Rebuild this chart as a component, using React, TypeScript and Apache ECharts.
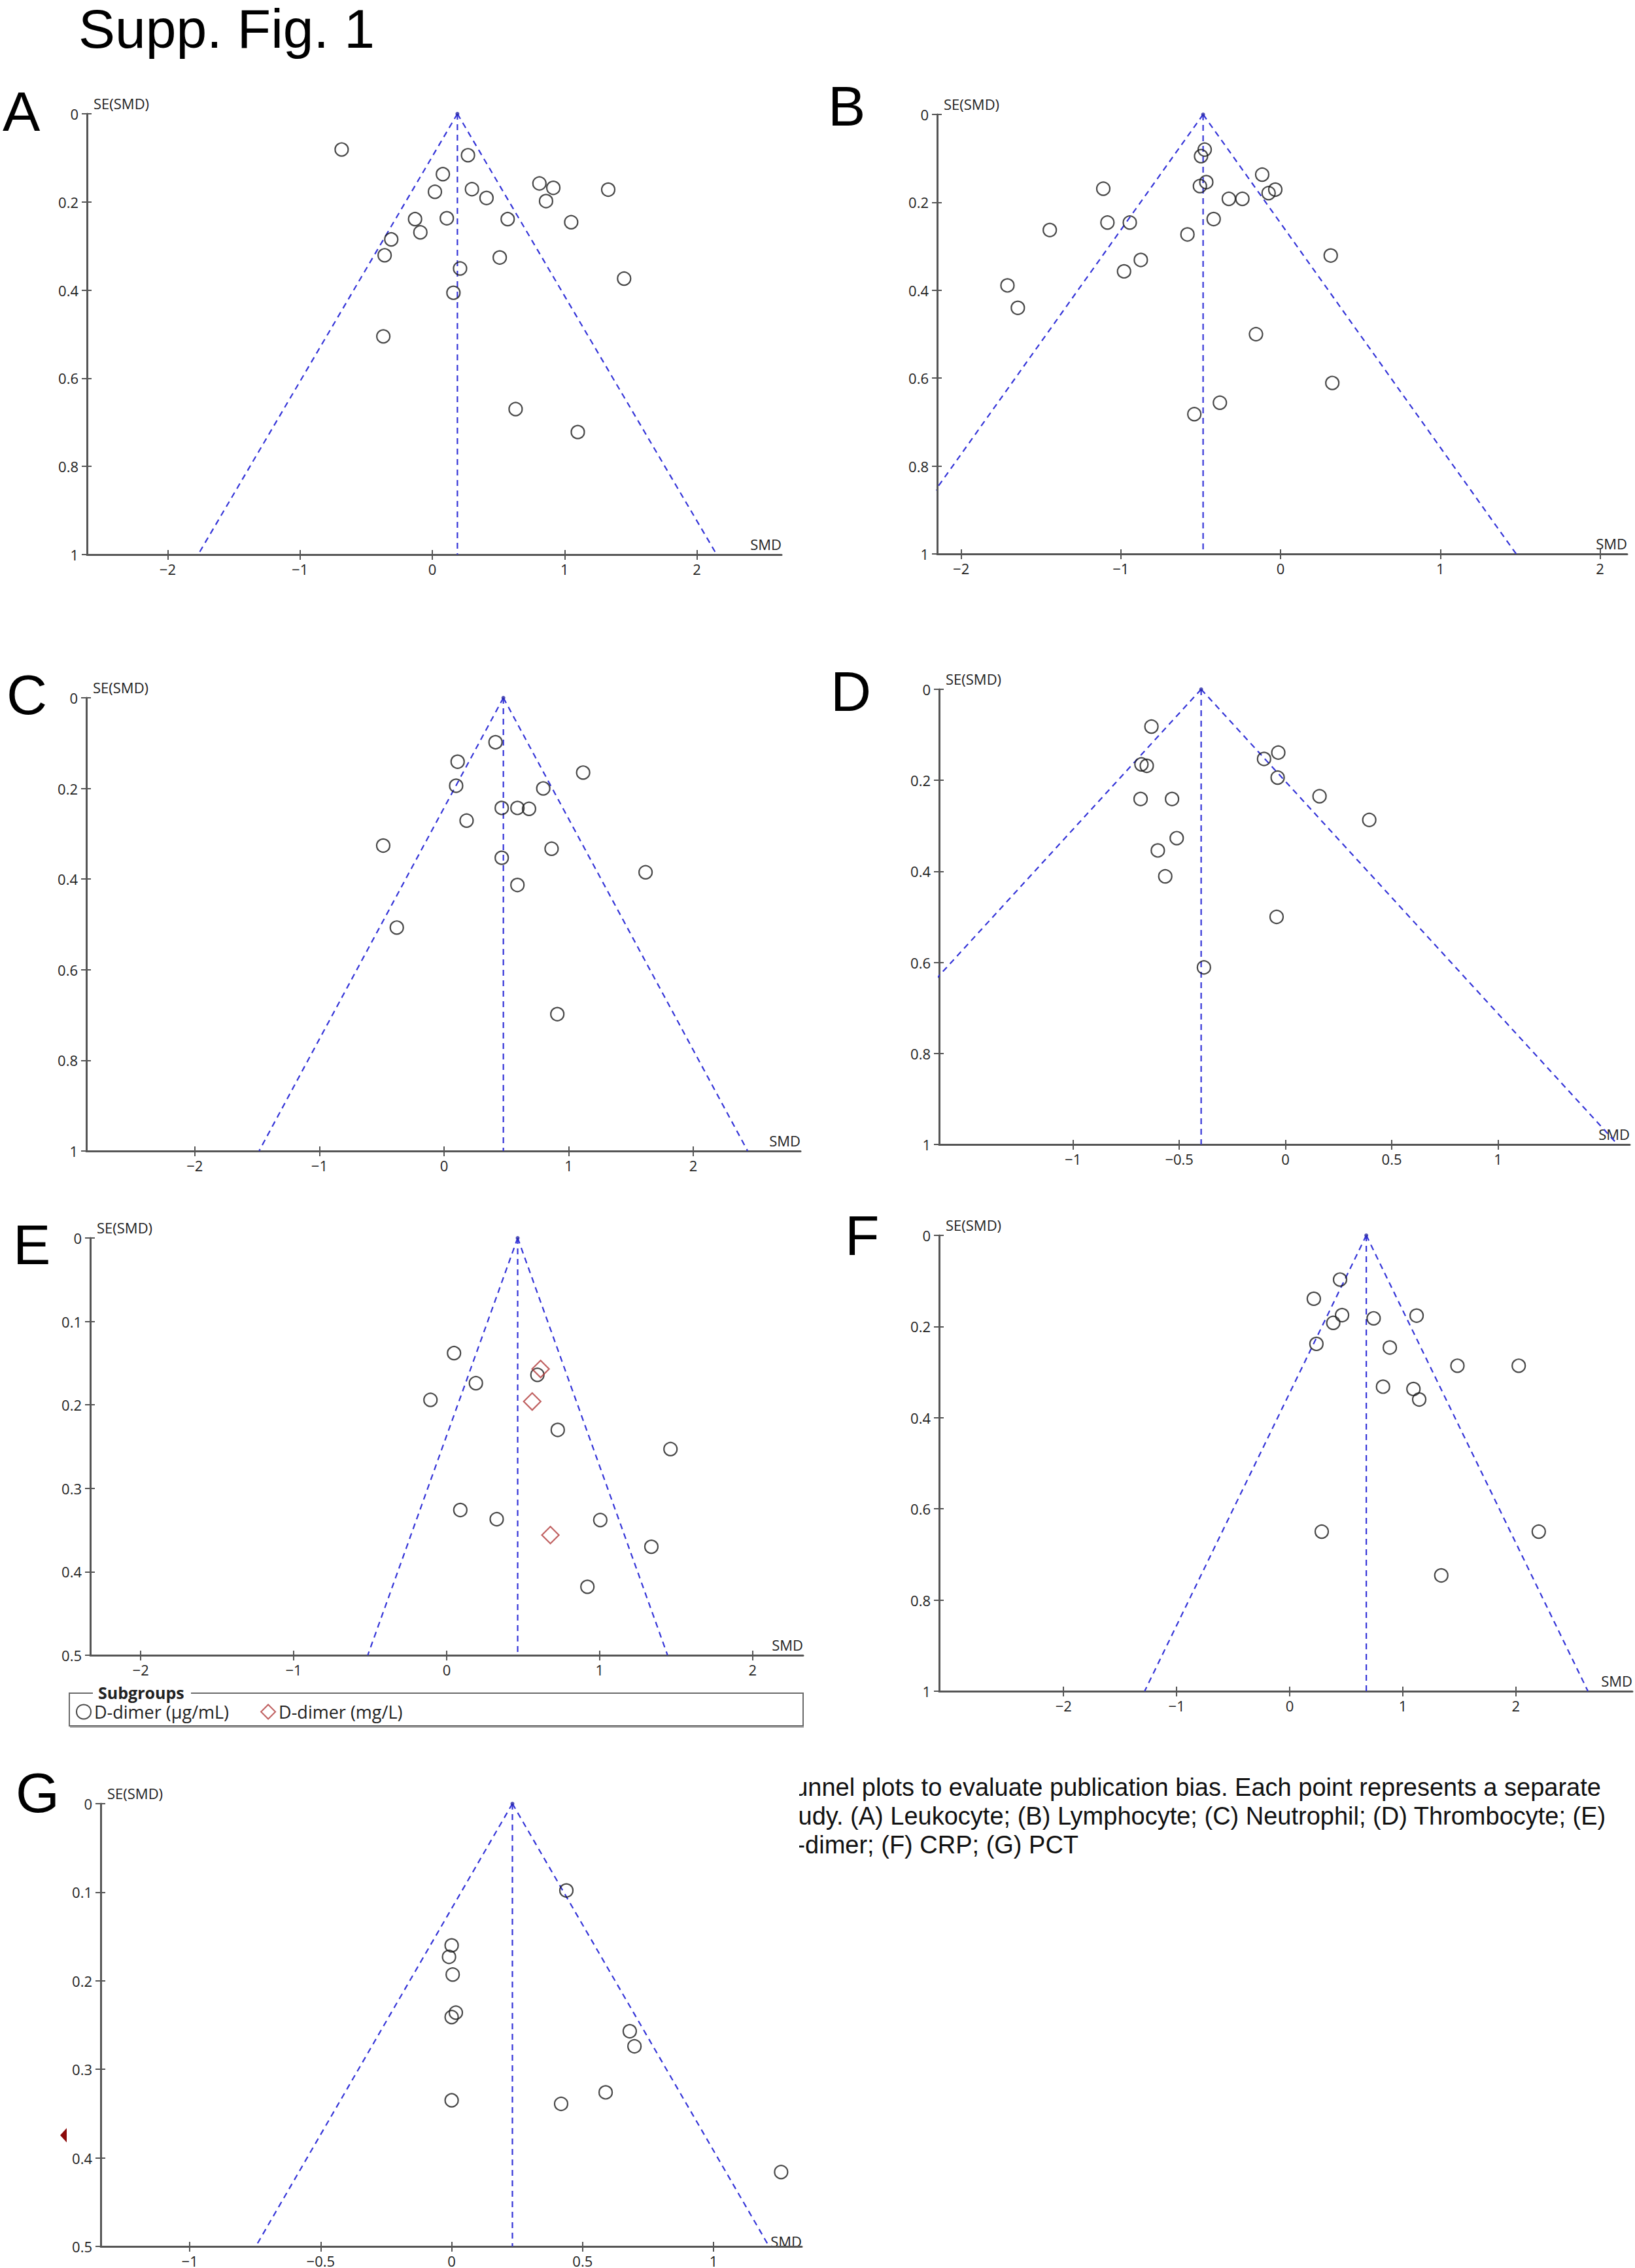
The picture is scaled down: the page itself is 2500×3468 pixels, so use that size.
import React, { useEffect, useRef } from "react";
import * as echarts from "echarts";

const W = 2500;
const H = 3468;

// ---------- data ----------
// (A) Leukocyte
const aSMD = [-0.685, 0.27, 0.08, 0.02, 0.3, 0.41, 0.81, 0.915, 0.86, 1.33, -0.13, 0.11, 0.57, 1.05, -0.09, -0.31, -0.36, 0.51, 0.21, 1.45, 0.16, -0.37, 0.63, 1.1];
const aSE = [0.081, 0.094, 0.137, 0.177, 0.171, 0.191, 0.158, 0.168, 0.198, 0.172, 0.239, 0.237, 0.239, 0.246, 0.269, 0.285, 0.321, 0.326, 0.351, 0.374, 0.406, 0.505, 0.67, 0.722];
// (B) Lymphocyte
const bSMD = [-0.475, -0.498, -0.115, -0.465, -0.505, -1.11, -0.033, -0.075, -0.324, -0.239, -0.419, -1.084, -0.944, -1.445, -0.583, 0.314, -0.875, -0.98, -1.71, -1.645, -0.154, 0.324, -0.38, -0.54];
const bSE = [0.08, 0.095, 0.137, 0.154, 0.163, 0.169, 0.171, 0.179, 0.192, 0.192, 0.238, 0.246, 0.246, 0.263, 0.273, 0.321, 0.331, 0.357, 0.389, 0.44, 0.5, 0.611, 0.656, 0.682];
// (C) Neutrophil
const cSMD = [0.413, 0.109, 1.116, 0.097, 0.796, 0.463, 0.589, 0.682, 0.181, -0.488, 0.863, 0.463, 1.617, 0.589, -0.379, 0.909];
const cSE = [0.098, 0.141, 0.165, 0.194, 0.2, 0.243, 0.243, 0.245, 0.271, 0.326, 0.333, 0.353, 0.385, 0.413, 0.507, 0.698];
// (D) Thrombocyte
const dSMD = [-0.631, -0.034, -0.101, -0.678, -0.653, -0.037, -0.682, -0.534, 0.16, 0.394, -0.512, -0.601, -0.566, -0.042, -0.384];
const dSE = [0.082, 0.139, 0.153, 0.165, 0.168, 0.194, 0.241, 0.241, 0.235, 0.287, 0.327, 0.354, 0.411, 0.5, 0.611];
// (E) D-dimer, two subgroups
const eUgSMD = [0.048, 0.191, -0.106, 0.593, 0.726, 1.463, 0.089, 0.327, 1.004, 1.338, 0.92];
const eUgSE = [0.138, 0.174, 0.194, 0.164, 0.23, 0.253, 0.326, 0.337, 0.338, 0.37, 0.418];
const eMgSMD = [0.614, 0.559, 0.678];
const eMgSE = [0.157, 0.196, 0.356];
// (F) CRP
const fSMD = [0.445, 0.213, 0.463, 0.385, 0.742, 1.122, 0.236, 0.885, 1.483, 2.025, 0.825, 1.094, 1.145, 0.283, 2.202, 1.34];
const fSE = [0.097, 0.139, 0.175, 0.192, 0.182, 0.176, 0.238, 0.246, 0.286, 0.286, 0.332, 0.337, 0.36, 0.65, 0.65, 0.746];
// (G) PCT
const gSMD = [0.438, 0.0, -0.01, 0.004, 0.016, 0.0, 0.68, 0.698, 0.0, 0.418, 0.588, 1.258];
const gSE = [0.098, 0.16, 0.173, 0.193, 0.236, 0.241, 0.257, 0.274, 0.335, 0.339, 0.326, 0.416];

// pooled estimates (funnel apex) per panel
const pooledSMD = [0.19, -0.485, 0.476, -0.397, 0.464, 0.677, 0.232];
const Z95 = 1.96;

const panelLetters = ["A", "B", "C", "D", "E", "F", "G"];
const panelNames = ["Leukocyte", "Lymphocyte", "Neutrophil", "Thrombocyte", "D-dimer (µg/mL)", "CRP", "PCT"];
const panelSMD = [aSMD, bSMD, cSMD, dSMD, eUgSMD, fSMD, gSMD];
const panelSE = [aSE, bSE, cSE, dSE, eUgSE, fSE, gSE];

// axes
const xTicksWide = [-2, -1, 0, 1, 2];
const xTicksNarrow = [-1, -0.5, 0, 0.5, 1];
const xTicks = [xTicksWide, xTicksWide, xTicksWide, xTicksNarrow, xTicksWide, xTicksWide, xTicksNarrow];
const xMin = [-2.61, -2.15, -2.87, -1.63, -2.33, -3.1, -1.34];
const xMax = [2.64, 2.17, 2.86, 1.62, 2.33, 3.03, 1.337];
const seMax = [1, 1, 1, 1, 0.5, 1, 0.5];
const seStep = [0.2, 0.2, 0.2, 0.2, 0.1, 0.2, 0.1];

const legendNames = ["D-dimer (µg/mL)", "D-dimer (mg/L)"];

const captionLines = [
  "Funnel plots to evaluate publication bias. Each point represents a separate",
  "study. (A) Leukocyte; (B) Lymphocyte; (C) Neutrophil; (D) Thrombocyte; (E)",
  "D-dimer; (F) CRP; (G) PCT",
];

// ---------- layout ----------
const GRIDS = [
  { left: 133, top: 174, width: 1062, height: 674 },
  { left: 1433, top: 175, width: 1055, height: 672 },
  { left: 132, top: 1067, width: 1092, height: 693 },
  { left: 1436, top: 1054, width: 1056, height: 696 },
  { left: 138, top: 1893, width: 1090, height: 638 },
  { left: 1436, top: 1889, width: 1060, height: 697 },
  { left: 154, top: 2758, width: 1072, height: 685 },
];
const LETTER_POS = [
  [4, 170],
  [1266, 162],
  [10, 1062],
  [1270, 1057],
  [20, 1903],
  [1292, 1889],
  [24, 2741],
];

const AXIS_COLOR = "#555555";
const FUNNEL_COLOR = "#3434d8";
const LABEL_FONT = "'Open Sans', 'DejaVu Sans', sans-serif";
const BIG_FONT = "'Liberation Sans', Arial, sans-serif";

function fmt(v: number) {
  const r = Math.round(v * 1000) / 1000;
  return String(r).replace("-", "\u2212");
}

function buildOption() {
  const grid: any[] = [];
  const xAxis: any[] = [];
  const yAxis: any[] = [];
  const series: any[] = [];
  const graphic: any[] = [];

  for (let i = 0; i < 7; i++) {
    const g = GRIDS[i];
    grid.push({ left: g.left, top: g.top, width: g.width, height: g.height });
    const ticks = xTicks[i];
    const lineStyle = { color: AXIS_COLOR, width: 3 };
    const tickStyle = { color: AXIS_COLOR, width: 2 };
    const labelStyle = { fontSize: 22, fontFamily: LABEL_FONT, color: "#222" };
    xAxis.push({
      type: "value",
      gridIndex: i,
      position: "bottom",
      min: xMin[i],
      max: xMax[i],
      axisLine: { show: true, onZero: false, lineStyle },
      axisTick: { show: true, length: 8, customValues: ticks, lineStyle: tickStyle },
      axisLabel: { show: true, customValues: ticks, formatter: fmt, margin: 11, ...labelStyle },
      splitLine: { show: false },
    });
    xAxis.push({
      type: "value",
      gridIndex: i,
      position: "bottom",
      min: xMin[i],
      max: xMax[i],
      axisLine: { show: false, onZero: false },
      axisTick: { show: true, inside: true, length: 7, customValues: ticks, lineStyle: tickStyle },
      axisLabel: { show: false },
      splitLine: { show: false },
    });
    yAxis.push({
      type: "value",
      gridIndex: i,
      position: "left",
      inverse: true,
      min: 0,
      max: seMax[i],
      interval: seStep[i],
      axisLine: { show: true, onZero: false, lineStyle },
      axisTick: { show: true, length: 8, lineStyle: tickStyle },
      axisLabel: { show: true, margin: 13, ...labelStyle },
      splitLine: { show: false },
    });
    yAxis.push({
      type: "value",
      gridIndex: i,
      position: "left",
      inverse: true,
      min: 0,
      max: seMax[i],
      interval: seStep[i],
      axisLine: { show: false, onZero: false },
      axisTick: { show: true, inside: true, length: 7, lineStyle: tickStyle },
      axisLabel: { show: false },
      splitLine: { show: false },
    });

    const xi = 2 * i;
    const yi = 2 * i;
    const c = pooledSMD[i];
    const m = seMax[i];
    const dash = { color: FUNNEL_COLOR, width: 2.2, type: [9, 7] };
    const funnel = [
      [[c, 0], [c - Z95 * m, m]],
      [[c, 0], [c + Z95 * m, m]],
      [[c, 0], [c, m]],
    ];
    funnel.forEach((d) => {
      series.push({
        type: "line",
        xAxisIndex: xi,
        yAxisIndex: yi,
        data: d,
        symbol: "none",
        clip: true,
        silent: true,
        lineStyle: dash,
        z: 1,
      });
    });
    series.push({
      type: "scatter",
      xAxisIndex: xi,
      yAxisIndex: yi,
      data: [[c, 0]],
      symbol: "circle",
      symbolSize: 6,
      silent: true,
      itemStyle: { color: "#2a2aa8" },
      z: 2,
    });
    const smd = panelSMD[i];
    const se = panelSE[i];
    series.push({
      type: "scatter",
      name: panelNames[i],
      xAxisIndex: xi,
      yAxisIndex: yi,
      data: smd.map((x, k) => [x, se[k]]),
      symbol: "circle",
      symbolSize: 20,
      itemStyle: { color: "rgba(0,0,0,0)", borderColor: "#1a1a1a", borderWidth: 2.2 },
      z: 3,
    });
    if (i === 4) {
      series.push({
        type: "scatter",
        name: legendNames[1],
        xAxisIndex: xi,
        yAxisIndex: yi,
        data: eMgSMD.map((x, k) => [x, eMgSE[k]]),
        symbol: "diamond",
        symbolSize: 26,
        itemStyle: { color: "rgba(0,0,0,0)", borderColor: "#b03a3a", borderWidth: 2.2 },
        z: 4,
      });
    }

    // axis names
    graphic.push({
      type: "text",
      x: g.left + 10,
      y: g.top - 16,
      silent: true,
      style: { text: "SE(SMD)", fontSize: 22, fontFamily: LABEL_FONT, fill: "#222", align: "left", verticalAlign: "middle" },
    });
    graphic.push({
      type: "text",
      x: g.left + g.width,
      y: g.top + g.height - 16,
      silent: true,
      style: { text: "SMD", fontSize: 22, fontFamily: LABEL_FONT, fill: "#222", align: "right", verticalAlign: "middle" },
    });
    // panel letter
    graphic.push({
      type: "text",
      x: LETTER_POS[i][0],
      y: LETTER_POS[i][1],
      silent: true,
      style: { text: panelLetters[i], fontSize: 86, fontFamily: BIG_FONT, fill: "#000", align: "left", verticalAlign: "middle" },
    });
  }

  // title
  graphic.push({
    type: "text",
    x: 120,
    y: 2,
    silent: true,
    style: { text: "Supp. Fig. 1", fontSize: 84, fontFamily: BIG_FONT, fill: "#000", align: "left", verticalAlign: "top" },
  });

  // legend box of panel E
  graphic.push({
    type: "rect",
    silent: true,
    shape: { x: 106, y: 2589, width: 1122, height: 50 },
    style: { fill: "none", stroke: "#6a6a6a", lineWidth: 2 },
    z: 10,
  });
  graphic.push({
    type: "line",
    silent: true,
    shape: { x1: 107, y1: 2641, x2: 1229, y2: 2641 },
    style: { stroke: "#b0b0b0", lineWidth: 2 },
    z: 10,
  });
  graphic.push({
    type: "rect",
    silent: true,
    shape: { x: 142, y: 2578, width: 150, height: 20 },
    style: { fill: "#fff" },
    z: 11,
  });
  graphic.push({
    type: "text",
    x: 150,
    y: 2588,
    silent: true,
    style: { text: "Subgroups", fontSize: 25, fontWeight: "bold", fontFamily: LABEL_FONT, fill: "#222", align: "left", verticalAlign: "middle" },
    z: 12,
  });

  // caption (left edge hidden, as in the source)
  captionLines.forEach((t, k) => {
    graphic.push({
      type: "text",
      x: 1191,
      y: 2733 + k * 44,
      silent: true,
      style: { text: t, fontSize: 38, fontFamily: BIG_FONT, fill: "#111", align: "left", verticalAlign: "middle" },
      z: 5,
    });
  });
  graphic.push({
    type: "rect",
    silent: true,
    shape: { x: 1150, y: 2705, width: 72, height: 140 },
    style: { fill: "#fff" },
    z: 6,
  });

  // small dark-red marker at the left of panel G
  graphic.push({
    type: "polygon",
    silent: true,
    shape: { points: [[102, 3254], [92, 3265], [102, 3276]] },
    style: { fill: "#8c0a0a" },
  });

  return {
    animation: false,
    backgroundColor: "#ffffff",
    grid,
    xAxis,
    yAxis,
    series,
    graphic,
    legend: {
      data: legendNames,
      left: 116,
      top: 2604,
      padding: 0,
      itemWidth: 22,
      itemHeight: 22,
      itemGap: 48,
      selectedMode: false,
      textStyle: { fontSize: 27, fontFamily: LABEL_FONT, color: "#222" },
    },
  };
}

export default function App() {
  const ref = useRef<HTMLDivElement>(null);
  useEffect(() => {
    document.body.style.margin = "0";
    const chart = echarts.init(ref.current as HTMLDivElement, null, { renderer: "svg", width: W, height: H });
    chart.setOption(buildOption() as any);
    return () => chart.dispose();
  }, []);
  return <div ref={ref} style={{ width: W, height: H, background: "#fff" }} />;
}
